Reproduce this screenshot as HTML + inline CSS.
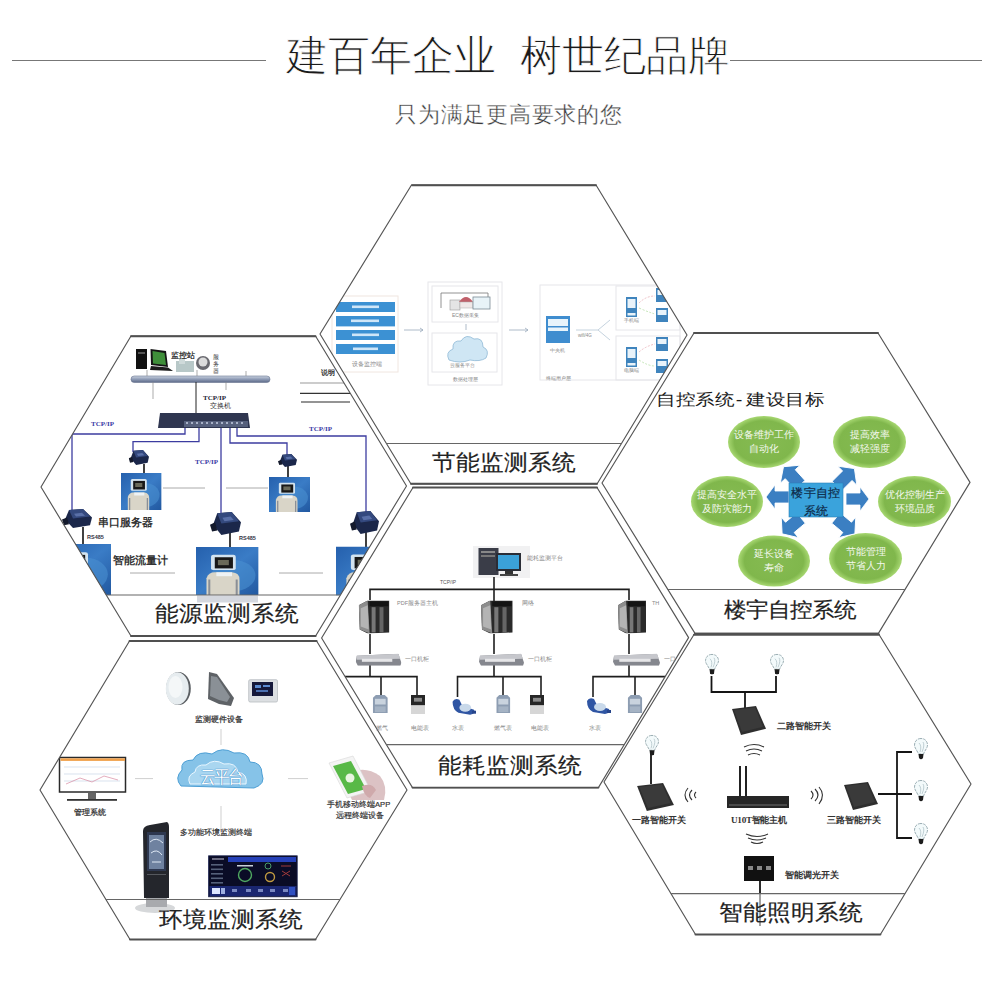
<!DOCTYPE html>
<html><head><meta charset="utf-8">
<style>
html,body{margin:0;padding:0;background:#fff;width:1000px;height:1000px;overflow:hidden}
body{position:relative;font-family:"Liberation Sans",sans-serif}
.t{position:absolute;line-height:1;white-space:nowrap}
svg{position:absolute;left:0;top:0}
.lbl{font-size:23.5px;color:#222;transform:scaleY(0.93);transform-origin:0 0;-webkit-text-stroke:0.2px #222}
.gt{font-size:10px;line-height:14px;color:#f4f8ee;text-align:center;white-space:normal}
.h6t{font-size:9.2px;color:#333;font-family:"Liberation Serif",serif;font-weight:bold}
.ttl{font-size:42.3px;color:#1a1a1a;-webkit-text-stroke:0.9px #fff}
.tn{font-size:6px;color:#888}
.sm{font-size:6px;color:#777}
</style></head><body>
<svg width="1000" height="1000" viewBox="0 0 1000 1000">
  <defs>
    <linearGradient id="gBlueBox" x1="0" y1="0" x2="1" y2="1">
      <stop offset="0" stop-color="#2560ad"/><stop offset="0.5" stop-color="#3a7cc6"/><stop offset="1" stop-color="#2158a0"/>
    </linearGradient>
    <linearGradient id="gBar" x1="0" y1="0" x2="0" y2="1">
      <stop offset="0" stop-color="#c9d2e0"/><stop offset="0.5" stop-color="#8e9bb5"/><stop offset="1" stop-color="#5d6a88"/>
    </linearGradient>
    <linearGradient id="gSrv" x1="0" y1="0" x2="1" y2="0">
      <stop offset="0" stop-color="#9a9a9a"/><stop offset="0.35" stop-color="#555"/><stop offset="0.4" stop-color="#1a1a1a"/><stop offset="1" stop-color="#333"/>
    </linearGradient>
    <linearGradient id="gSw" x1="0" y1="0" x2="0" y2="1">
      <stop offset="0" stop-color="#d0d0d4"/><stop offset="0.5" stop-color="#9a9ca4"/><stop offset="1" stop-color="#6a6c74"/>
    </linearGradient>
    <symbol id="fm" viewBox="0 0 40 37" preserveAspectRatio="none">
      <rect x="0" y="0" width="40" height="37" fill="url(#gBlueBox)"/>
      <ellipse cx="24" cy="22" rx="14" ry="12" fill="#4a8fd0" opacity="0.6"/>
      <rect x="9.6" y="6" width="15.8" height="11.8" rx="1.5" fill="#d3e3ef"/>
      <rect x="12" y="7.9" width="11.6" height="8.6" fill="#181818"/>
      <rect x="14" y="10" width="7" height="4" fill="#6a6a5a"/>
      <path d="M6.7,37 L6.7,24 Q8,19.5 12,19.5 L23,19.5 Q27.8,20 27.8,25 L27.8,37 Z" fill="#d9d5c8"/>
      <path d="M8.5,37 L8.5,25 M26,37 L26,25" stroke="#8a8f96" stroke-width="1.3"/>
      <rect x="13" y="19.5" width="10" height="3" fill="#eef2f4"/>
    </symbol>
    <symbol id="ss" viewBox="0 0 30 20" preserveAspectRatio="none">
      <polygon points="7,1 21,0 30,9 28,17 11,20 3,11" fill="#1b274a"/>
      <polygon points="7,1 21,0 28,8 11,10" fill="#34497e"/>
      <polygon points="12,5 20,4 23,7 14,8" fill="#5a70a8"/>
      <polygon points="0,11 5,9 7,16 2,17" fill="#141a2c"/>
    </symbol>
    <clipPath id="c1"><polygon points="411.5,185 596,185 687,335 597,484 411,484 320,334"/></clipPath>
    <clipPath id="c2"><polygon points="131,336 315.5,336 406.5,486 315.6,636 131,636 41,487"/></clipPath>
    <clipPath id="c3"><polygon points="694,333 878,333 970,482.4 878.4,633.4 695,633.4 602,483"/></clipPath>
    <clipPath id="c4"><polygon points="413,487.5 597,487.5 688.6,637.6 598.4,787.6 412.5,787.6 321.6,638"/></clipPath>
    <clipPath id="c5"><polygon points="129.5,641 316.6,641 407,790 315.5,939.5 130,939.5 40,790"/></clipPath>
    <clipPath id="c6"><polygon points="694,634.5 879,634.5 971,784 880.4,934.5 695.5,934.5 604,782"/></clipPath>
  </defs>

  <!-- header lines -->
  <line x1="12" y1="60.5" x2="266" y2="60.5" stroke="#777" stroke-width="1.2"/>
  <line x1="730" y1="60.5" x2="982" y2="60.5" stroke="#777" stroke-width="1.2"/>
  <g id="hexfill" fill="#fff" stroke="none">
    <polygon points="411.5,185 596,185 687,335 597,484 411,484 320,334"/>
    <polygon points="131,336 315.5,336 406.5,486 315.6,636 131,636 41,487"/>
    <polygon points="694,333 878,333 970,482.4 878.4,633.4 695,633.4 602,483"/>
    <polygon points="413,487.5 597,487.5 688.6,637.6 598.4,787.6 412.5,787.6 321.6,638"/>
    <polygon points="129.5,641 316.6,641 407,790 315.5,939.5 130,939.5 40,790"/>
    <polygon points="694,634.5 879,634.5 971,784 880.4,934.5 695.5,934.5 604,782"/>
  </g>


  <g id="h1" clip-path="url(#c1)">
    <rect x="332" y="296" width="66" height="76" fill="none" stroke="#f0e6e0" stroke-width="1"/>
    <g fill="#3c91d3">
      <rect x="336" y="302" width="59" height="10"/>
      <rect x="336" y="316" width="59" height="10.4"/>
      <rect x="336" y="330" width="59" height="10"/>
      <rect x="336" y="344" width="59" height="10"/>
    </g>
    <g fill="#cfe6f8">
      <rect x="352" y="305.5" width="27" height="2.6"/>
      <rect x="351" y="319.5" width="28" height="2.6"/>
      <rect x="352" y="333.5" width="27" height="2.6"/>
      <rect x="353" y="347.5" width="25" height="2.6"/>
    </g>
    
    <g stroke="#9ab" stroke-width="0.8" fill="none">
      <line x1="404" y1="330" x2="423" y2="330"/><polyline points="420,328 423,330 420,332"/>
      <line x1="509" y1="330" x2="528" y2="330"/><polyline points="525,328 528,330 525,332"/>
      <line x1="466" y1="324" x2="466" y2="330"/>
    </g>
    <g fill="none" stroke="#e6e6ea" stroke-width="1">
      <rect x="428" y="282" width="74" height="103"/>
      <rect x="432" y="286" width="66" height="36"/>
      <rect x="432" y="333" width="65" height="39"/>
      <rect x="540" y="285" width="140" height="95"/>
      <rect x="616" y="286" width="64" height="44"/>
      <rect x="616" y="336" width="64" height="44"/>
    </g>
    <!-- building -->
    <polyline points="441,308 441,293 488,293 488,300" fill="none" stroke="#777" stroke-width="0.8"/>
    <rect x="450" y="300" width="10" height="10" fill="#e4e4e4" stroke="#999" stroke-width="0.6"/>
    <path d="M459,302 Q466,292 473,302 Z" fill="#c0606a"/>
    <rect x="460" y="302" width="13" height="6" fill="#f0e8e8" stroke="#aaa" stroke-width="0.5"/>
    <rect x="473" y="297" width="17" height="12" fill="#e8f3f8" stroke="#7a8a95" stroke-width="0.8"/>
    
    <!-- cloud -->
    <path d="M449,360 Q445,352 453,349 Q452,340 461,341 Q466,333 474,339 Q483,337 483,347 Q490,350 486,358 Q480,362 470,360 Q460,364 449,360 Z" fill="#cfe6f4" stroke="#8fb9d6" stroke-width="0.8"/>
    
    
    <!-- device -->
    <rect x="546" y="316" width="24" height="27" fill="#3f8dcf"/>
    <rect x="548" y="319" width="20" height="7" fill="#e8f4fb"/>
    <rect x="548" y="327.5" width="20" height="3.5" fill="#e8f4fb"/>
    
    <g stroke="#b6c8d6" stroke-width="0.8" fill="none">
      <polyline points="576,330 598,330 610,320"/><line x1="598" y1="330" x2="610" y2="340"/>
    </g>
    
    
    <g fill="none" stroke-width="0.8" stroke-dasharray="2,1.5"><path d="M639,303 Q646,296 655,296" stroke="#e8b0b8"/><path d="M639,308 Q648,312 655,314" stroke="#b8e0a8"/><path d="M639,352 Q646,346 655,344" stroke="#e8b0b8"/><path d="M639,360 Q648,366 655,366" stroke="#b8e0a8"/></g>
    <!-- terminals -->
    <g>
      <rect x="626" y="297" width="11" height="20" fill="#3f84bd"/><rect x="627.5" y="299" width="8" height="9" fill="#e9f3fa"/><rect x="627.5" y="313" width="8" height="2.5" fill="#e9f3fa"/>
      <rect x="626" y="347" width="11" height="20" fill="#3f84bd"/><rect x="627.5" y="349" width="8" height="9" fill="#e9f3fa"/><rect x="627.5" y="363" width="8" height="2.5" fill="#e9f3fa"/>
      <rect x="656" y="288" width="12" height="14" fill="#3f84bd"/><rect x="657.5" y="290" width="9" height="5" fill="#e9f3fa"/>
      <rect x="656" y="308" width="12" height="14" fill="#3f84bd"/><rect x="657.5" y="310" width="9" height="5" fill="#e9f3fa"/>
      <rect x="656" y="337" width="12" height="14" fill="#3f84bd"/><rect x="657.5" y="339" width="9" height="5" fill="#e9f3fa"/>
      <rect x="656" y="359" width="12" height="14" fill="#3f84bd"/><rect x="657.5" y="361" width="9" height="5" fill="#e9f3fa"/>
    </g>
    
  </g>
  <g id="h2" clip-path="url(#c2)">
    <!-- computers -->
    <rect x="136" y="349" width="11" height="20" fill="#111"/>
    <rect x="138" y="352" width="7" height="2" fill="#555"/>
    <polygon points="150.5,349 166,351 168,367 151,365" fill="#151515"/>
    <polygon points="152.5,351 164.5,353 166,365 153,363.5" fill="#3f8f3a"/>
    <polygon points="151,366 168,367.5 173,371 150,370" fill="#1c1c1c"/>
    <rect x="176" y="361" width="18" height="11" fill="#b8c8c8"/>
    <rect x="179" y="358" width="6" height="6" fill="#cfdada"/>
    <circle cx="203" cy="363" r="7" fill="#6a6a70"/>
    <circle cx="203" cy="362" r="4.5" fill="#dcdcdc"/>
    <!-- bus bar -->
    <rect x="131" y="376" width="139" height="6.5" rx="3.2" fill="url(#gBar)" stroke="#6a7590" stroke-width="0.6"/>
    <g stroke="#888" stroke-width="0.7">
      <line x1="147" y1="370" x2="147" y2="376"/><line x1="197" y1="370" x2="197" y2="376"/><line x1="246" y1="371" x2="246" y2="376"/>
      <line x1="153" y1="382" x2="153" y2="399"/><line x1="226" y1="382" x2="226" y2="390"/>
    </g>
    <line x1="196" y1="382" x2="196" y2="413" stroke="#222" stroke-width="1"/>
    <!-- switch -->
    <polygon points="160,413 248,413 250,428 158,428" fill="#2f3650"/>
    <rect x="184" y="421" width="64" height="6" fill="#56607c"/>
    <g fill="#a9b2c8"><rect x="186" y="422" width="2" height="2"/><rect x="191" y="422" width="2" height="2"/><rect x="196" y="422" width="2" height="2"/><rect x="201" y="422" width="2" height="2"/><rect x="206" y="422" width="2" height="2"/><rect x="211" y="422" width="2" height="2"/><rect x="216" y="422" width="2" height="2"/><rect x="221" y="422" width="2" height="2"/><rect x="226" y="422" width="2" height="2"/><rect x="231" y="422" width="2" height="2"/><rect x="236" y="422" width="2" height="2"/><rect x="241" y="422" width="2" height="2"/></g>
    <!-- blue lines -->
    <g fill="none" stroke="#3c3ca0" stroke-width="1.3">
      <polyline points="185,428 185,434 72,434 72,510"/>
      <polyline points="199,428 199,441.6 133,441.6 133,452"/>
      <polyline points="221,428 221,513"/>
      <polyline points="230,428 230,443 287,443 287,455"/>
      <polyline points="237,428 237,436 366,436 366,512"/>
    </g>
    <!-- cables -->
    <g stroke="#111" stroke-width="1.6">
      <line x1="144" y1="464" x2="144" y2="485"/>
      <line x1="288" y1="466" x2="288" y2="486"/>
      <line x1="83" y1="527" x2="83" y2="562"/>
      <line x1="230" y1="533" x2="230" y2="572"/>
      <line x1="366" y1="532" x2="366" y2="562"/>
    </g>
    <!-- gray lines -->
    <g stroke="#aaa" stroke-width="1">
      <line x1="163" y1="488" x2="205" y2="488"/><line x1="226" y1="488" x2="268" y2="488"/>
      <line x1="130" y1="573" x2="175" y2="573"/><line x1="279" y1="573" x2="323" y2="573"/>
    </g>
    <!-- flow meters -->
    <use href="#fm" x="121" y="473" width="40.6" height="37"/>
    <use href="#fm" x="269" y="477" width="41" height="35"/>
    <use href="#fm" x="48" y="544" width="63" height="51"/>
    <use href="#fm" x="196" y="547" width="62.6" height="48"/>
    <use href="#fm" x="336" y="546.5" width="62" height="49"/>
    <rect x="197" y="595.5" width="61" height="7" fill="#c9cdd6" opacity="0.8"/>
    <!-- serial servers -->
    <use href="#ss" x="128.7" y="450" width="20.3" height="15"/>
    <use href="#ss" x="278" y="454" width="19" height="13"/>
    <use href="#ss" x="62" y="509" width="30" height="19"/>
    <use href="#ss" x="210" y="512" width="31" height="23"/>
    <use href="#ss" x="350" y="511" width="29" height="23"/>
    <!-- legend right -->
    <g stroke-width="1.2">
      <line x1="300" y1="383" x2="345" y2="383" stroke="#999"/>
      <line x1="300" y1="393.3" x2="350" y2="393.3" stroke="#333"/>
      <line x1="301" y1="402" x2="350" y2="402" stroke="#2a2a2a"/>
    </g>
  </g>

  <g id="h3" clip-path="url(#c3)">
    <defs>
      <radialGradient id="gGreen" cx="0.5" cy="0.5" r="0.5">
        <stop offset="0" stop-color="#86bb52"/><stop offset="0.82" stop-color="#80b74c"/><stop offset="1" stop-color="#a8d872"/>
      </radialGradient>
    </defs>
    <g fill="url(#gGreen)">
      <ellipse cx="764" cy="442" rx="36" ry="26"/>
      <ellipse cx="869.5" cy="442" rx="36.5" ry="26"/>
      <ellipse cx="727" cy="501.5" rx="36" ry="25.5"/>
      <ellipse cx="914.5" cy="501.5" rx="36.5" ry="25.5"/>
      <ellipse cx="774" cy="561" rx="36" ry="25.6"/>
      <ellipse cx="865.5" cy="558.5" rx="36.5" ry="25.5"/>
    </g>
    <!-- arrows -->
    <g fill="#3b7fc2" stroke="#fff" stroke-width="0.8">
      <polygon points="789,491 775,491 775,485 766,497 775,509 775,503 789,503"/>
      <polygon points="846,493 860,493 860,487 869,499 860,511 860,505 846,505"/>
      <g transform="translate(800,485) rotate(-132) scale(1.12)"><polygon points="0,-6 13,-6 13,-12 22,0 13,12 13,6 0,6"/></g>
      <g transform="translate(837,486) rotate(-45) scale(1.12)"><polygon points="0,-6 13,-6 13,-12 22,0 13,12 13,6 0,6"/></g>
      <g transform="translate(801,518) rotate(140) scale(1.12)"><polygon points="0,-6 13,-6 13,-12 22,0 13,12 13,6 0,6"/></g>
      <g transform="translate(836,518) rotate(40) scale(1.12)"><polygon points="0,-6 13,-6 13,-12 22,0 13,12 13,6 0,6"/></g>
    </g>
    <rect x="789" y="483" width="54" height="34" fill="#3aa3dc" stroke="#2b7fb8" stroke-width="0.6"/>
  </g>

  <g id="h4" clip-path="url(#c4)">
    <defs>
      <symbol id="srv" viewBox="0 0 31 34" preserveAspectRatio="none">
        <polygon points="0,5 9,0 31,0 31,33 9,34 1,30" fill="#2a2a2a"/>
        <polygon points="0,5 9,0 11,34 1,30" fill="#8d8d8d"/>
        <polygon points="2,8 9,5 10,30 2,27" fill="#b4b4b4"/>
        <rect x="13" y="7" width="4" height="26" fill="#777"/>
        <rect x="21" y="7" width="4" height="26" fill="#666"/>
        <rect x="11" y="1" width="19" height="5" fill="#141414"/>
      </symbol>
      <symbol id="sw" viewBox="0 0 45 12" preserveAspectRatio="none">
        <polygon points="1,2 42,0 45,9 44,12 2,12 0,8" fill="#85878e"/>
        <polygon points="1,2 42,0 44,5 1,6" fill="#c6c7cc"/>
        <rect x="6" y="5" width="30" height="3" fill="#e6e6e8"/>
      </symbol>
      <symbol id="gas" viewBox="0 0 17 20" preserveAspectRatio="none">
        <path d="M1,3 L4,0 L13,0 L16,3 L16,19 L1,19 Z" fill="#8d9db2"/>
        <rect x="3" y="4" width="11" height="6" fill="#c9d3de"/>
        <rect x="3" y="12" width="11" height="6" fill="#a5b3c4"/>
      </symbol>
      <symbol id="elec" viewBox="0 0 14 20" preserveAspectRatio="none">
        <rect x="0" y="0" width="14" height="11" fill="#262626"/>
        <rect x="3" y="3" width="8" height="4" fill="#8a8a8a"/>
        <rect x="0" y="11" width="14" height="9" fill="#d6d6d6"/>
      </symbol>
      <symbol id="water" viewBox="0 0 26 18" preserveAspectRatio="none">
        <path d="M2,4 Q4,0 9,2 L12,8 L24,12 Q26,16 20,17 L8,15 Q2,12 2,4 Z" fill="#2f55a3"/>
        <ellipse cx="15" cy="10" rx="6" ry="4" fill="#c9d9ea"/>
        <rect x="22" y="13" width="4" height="3" fill="#26448a"/>
      </symbol>
    </defs>
    <!-- computer -->
    <rect x="473" y="546" width="57" height="32" fill="#f1f1f2"/>
    <rect x="478.5" y="548" width="20" height="27" fill="#3a3d48"/>
    <rect x="481" y="551" width="14" height="2" fill="#888"/><rect x="481" y="555" width="14" height="2" fill="#777"/>
    <rect x="496" y="553" width="25" height="18" fill="#2a2d36"/>
    <rect x="498" y="555" width="21" height="14" fill="#3ba1d8"/>
    <rect x="505" y="571" width="8" height="3" fill="#333"/><rect x="500" y="574" width="18" height="2" fill="#444"/>
    <!-- lines -->
    <g stroke="#1e1e1e" stroke-width="1.6" fill="none">
      <line x1="494" y1="577" x2="494" y2="601"/>
      <polyline points="370,600 370,589.4 629,589.4 629,600"/>
      <line x1="370" y1="634" x2="370" y2="654"/><line x1="494" y1="634" x2="494" y2="654"/><line x1="629" y1="634" x2="629" y2="654"/>
      <line x1="370" y1="665" x2="370" y2="676.6"/><line x1="494" y1="665" x2="494" y2="676.6"/><line x1="629" y1="665" x2="629" y2="676.6"/>
      <polyline points="345,676.6 417,676.6 417,696"/><line x1="381" y1="676.6" x2="381" y2="697"/>
      <polyline points="457.5,697 457.5,676.6 541,676.6 541,696"/><line x1="503" y1="676.6" x2="503" y2="697"/>
      <polyline points="593,697 593,676.6 690,676.6"/><line x1="635" y1="676.6" x2="635" y2="697"/>
    </g>
    <use href="#srv" x="358.8" y="600.4" width="30.6" height="33"/>
    <use href="#srv" x="481" y="600.4" width="31.7" height="33"/>
    <use href="#srv" x="618" y="600.4" width="28" height="33"/>
    <use href="#sw" x="355.8" y="653.8" width="45.6" height="12"/>
    <use href="#sw" x="479" y="653.8" width="45" height="12"/>
    <use href="#sw" x="613" y="653.8" width="47" height="12"/>
    <use href="#gas" x="372" y="695" width="16.6" height="19"/>
    <use href="#elec" x="411" y="695" width="14" height="19"/>
    <use href="#water" x="450.6" y="697.7" width="25.4" height="18"/>
    <use href="#gas" x="495.6" y="695" width="15.4" height="19"/>
    <use href="#elec" x="530" y="695" width="14" height="19"/>
    <use href="#water" x="585" y="697" width="26" height="18"/>
    <use href="#gas" x="627" y="695" width="16" height="19"/>

  </g>

  <g id="h5" clip-path="url(#c5)">
    <defs>
      <linearGradient id="gKiosk" x1="0" y1="0" x2="1" y2="0">
        <stop offset="0" stop-color="#1a1a1e"/><stop offset="1" stop-color="#3a3a40"/>
      </linearGradient>
    </defs>
    <!-- sensors -->
    <ellipse cx="178.5" cy="688.5" rx="12.3" ry="16.5" fill="#5a5e62"/>
    <ellipse cx="177.3" cy="688.5" rx="11.5" ry="16.3" fill="#e6ecef"/>
    <ellipse cx="175.5" cy="687" rx="7" ry="11" fill="#f4f7f8"/>
    <polygon points="209,672 217,674 234,698 231,706 219,704 208,699" fill="#5e6266"/>
    <polygon points="211,676 217,677 230,697 227,702 219,700 210,696" fill="#8a9096"/>
    <rect x="248.7" y="679.7" width="28.8" height="22.3" rx="1.5" fill="#dcdfe2" stroke="#b8bcc0" stroke-width="0.8"/>
    <rect x="252" y="682" width="21" height="14" fill="#15183a"/>
    <rect x="255" y="685" width="6" height="3" fill="#5b8ad0"/><rect x="263" y="685" width="7" height="2" fill="#5b8ad0"/><rect x="256" y="690" width="12" height="2" fill="#4a6fb0"/>
    
    <g stroke="#cfcfcf" stroke-width="1">
      <line x1="221" y1="729" x2="221" y2="745"/>
      <line x1="135" y1="778.6" x2="153" y2="778.6"/>
      <line x1="288" y1="778.6" x2="308" y2="778.6"/>
      <line x1="221" y1="806" x2="221" y2="830"/>
    </g>
    <!-- cloud -->
    <path d="M181,786 Q174,778 182,770 Q180,760 193,760 Q198,750 212,754 Q222,746 234,753 Q248,751 250,762 Q262,762 262,774 Q266,784 254,788 Z" fill="#86c3e8" stroke="#4e9fd4" stroke-width="1"/>
    <path d="M190,784 Q186,776 195,772 Q196,764 206,765 Q214,758 224,764 Q236,762 238,772 Q248,774 246,784 Z" fill="#a9d6f0" stroke="#e8f6ff" stroke-width="1"/>
    <!-- monitor -->
    <rect x="59.5" y="757.5" width="66" height="34.5" fill="#fff" stroke="#2a2a2a" stroke-width="1.5"/>
    <rect x="60.5" y="758.3" width="64.5" height="2.6" fill="#f0a04a"/>
    <g stroke="#c9d6e6" stroke-width="0.7"><line x1="64" y1="767" x2="120" y2="767"/><line x1="64" y1="774" x2="120" y2="774"/><line x1="64" y1="781" x2="120" y2="781"/></g>
    <polyline points="66,784 80,778 92,782 104,776 118,780" fill="none" stroke="#d98aa0" stroke-width="0.7"/>
    <rect x="88" y="793" width="8" height="6" fill="#666"/>
    <rect x="67" y="799" width="50" height="1.8" fill="#333"/>
    
    <!-- phone -->
    <path d="M352,772 Q366,766 380,776 Q388,786 384,800 L352,800 Q346,790 352,772 Z" fill="#dcc2c4"/>
    <polygon points="329,763 353,756 371,791 347,798" fill="#f4f4f4" stroke="#d8d8d8" stroke-width="0.6"/>
    <polygon points="333,766 351,761 366,789 348,794" fill="#58b947"/>
    <circle cx="350" cy="778" r="4.5" fill="#e8f5e0"/>
    <path d="M362,786 Q372,782 376,790 L370,798 Q364,796 362,786 Z" fill="#cfa9ab"/>
    <!-- kiosk -->
    <ellipse cx="155" cy="908" rx="20" ry="5" fill="#d6d8da"/>
    <rect x="146" y="897" width="21" height="10" fill="#a8aaae"/>
    <path d="M143,831 Q143,826 150,825 L167,822 Q169,823 169,827 L169,898 L144,898 Z" fill="#24262c"/>
    <rect x="147" y="832" width="19" height="39" fill="#2e3850"/>
    <rect x="149" y="835" width="15" height="34" fill="#6f82a0"/>
    <path d="M150,842 Q156,836 163,843 M151,853 Q157,848 162,855 M152,862 L161,862" stroke="#dfe8f4" stroke-width="1" fill="none"/>
    <rect x="147" y="874" width="19" height="1" fill="#55585e"/>
    <!-- dashboard -->
    <rect x="208.6" y="855.8" width="88.6" height="41" fill="#0a0c26" stroke="#1c2450" stroke-width="0.8"/>
    <rect x="228" y="857" width="68" height="5" fill="#2540b8"/>
    <rect x="212" y="858" width="12" height="2" fill="#6a6a80"/>
    <g fill="#55607a"><rect x="211" y="864" width="12" height="1.6"/><rect x="211" y="868.5" width="12" height="1.6"/><rect x="211" y="873" width="12" height="1.6"/><rect x="211" y="877.5" width="12" height="1.6"/><rect x="211" y="882" width="12" height="1.6"/></g>
    <rect x="237" y="865" width="16" height="1.5" fill="#c8d0d8"/>
    <circle cx="245" cy="875" r="6.5" fill="none" stroke="#4fa860" stroke-width="1.4"/>
    <circle cx="270" cy="877" r="4.5" fill="none" stroke="#c09a40" stroke-width="1.4"/>
    <circle cx="268" cy="866" r="3" fill="none" stroke="#4a9a6a" stroke-width="1"/>
    <path d="M281,866 L291,866 M282,871 L290,876 M290,871 L282,876" stroke="#a03a3a" stroke-width="1" fill="none"/>
    <rect x="209.5" y="886" width="87" height="10" fill="#1a2670"/>
    <rect x="212" y="888" width="8" height="6" fill="#dde6ff"/><rect x="221" y="888" width="4" height="6" fill="#9fb0e0"/>
    <g fill="#7a88c0"><rect x="232" y="889" width="5" height="3"/><rect x="246" y="889" width="5" height="3"/><rect x="258" y="889" width="5" height="3"/><rect x="270" y="889" width="5" height="3"/><rect x="283" y="889" width="5" height="3"/></g>
    <rect x="289" y="887" width="6" height="8" fill="#3050c0"/>
  </g>

  <g id="h6" clip-path="url(#c6)">
    <defs>
      <symbol id="bulb" viewBox="0 0 16 24" preserveAspectRatio="none">
        <path d="M8,1.5 C3.5,1.5 1.5,5 1.5,8 C1.5,11 4,13 5.5,17 L10.5,17 C12,13 14.5,11 14.5,8 C14.5,5 12.5,1.5 8,1.5 Z" fill="#f3fafb" stroke="#8fa4aa" stroke-width="0.9" stroke-dasharray="3,1"/>
        <path d="M6,6 Q9,9 7,15 M10,5 Q12,8 9,15" fill="none" stroke="#a8bcc2" stroke-width="0.7"/>
        <path d="M5.5,17 L10.5,17 L10,21 Q8,23.5 6,21 Z" fill="#1c1c1c"/>
      </symbol>
      <symbol id="wsw" viewBox="0 0 36 28" preserveAspectRatio="none">
        <polygon points="1,3 25,0 35,22 10,28" fill="#2e2e2e"/>
        <polygon points="3,4 24,1.5 32,20 11,25" fill="#3a3a3a"/>
      </symbol>
    </defs>
    <g stroke="#151515" stroke-width="1.8" fill="none">
      <polyline points="711.5,676 711.5,692 776,692 776,676"/>
      <line x1="745" y1="692" x2="745" y2="708"/>
      <line x1="651" y1="754" x2="651" y2="784"/>
      <polyline points="878,794 912,794"/>
      <polyline points="912,752 897,752 897,838 912,838"/>
      <line x1="760" y1="881" x2="760" y2="894"/>
    </g>
    <use href="#bulb" x="704" y="653" width="16" height="23"/>
    <use href="#bulb" x="769" y="653" width="16" height="23"/>
    <use href="#bulb" x="644" y="734" width="16" height="23"/>
    <line x1="760" y1="894" x2="760" y2="926" stroke="#8a8a8a" stroke-width="1.6"/>
    <g transform="translate(913,737)"><use href="#bulb" x="0" y="0" width="16" height="24"/></g>
    <g transform="translate(913,779)"><use href="#bulb" x="0" y="0" width="16" height="24"/></g>
    <g transform="translate(913,822)"><use href="#bulb" x="0" y="0" width="16" height="24"/></g>
    <use href="#wsw" x="731" y="706" width="36" height="29"/>
    <use href="#wsw" x="636" y="783" width="39" height="28"/>
    <use href="#wsw" x="843" y="782" width="36" height="28"/>
    <!-- router -->
    <rect x="739" y="766" width="2" height="31" fill="#222"/>
    <rect x="745" y="766" width="2" height="31" fill="#222"/>
    <rect x="727" y="796" width="62" height="12" fill="#262626"/>
    <rect x="729" y="804" width="58" height="2" fill="#4a4a4a"/>
    <!-- dimmer -->
    <rect x="744" y="856" width="30" height="25" fill="#111"/>
    <g fill="#888"><rect x="748" y="866" width="5" height="4"/><rect x="757" y="866" width="5" height="4"/><rect x="766" y="866" width="5" height="4"/></g>
    <!-- wifi -->
    <g fill="none" stroke="#333" stroke-width="1.1">
      <path d="M744,747 Q754,742 764,747"/><path d="M746,751 Q754,747 762,751"/><path d="M748,755 Q754,752 760,755"/>
      <path d="M746,834 Q757,839 768,834"/><path d="M748,838 Q757,842 766,838"/><path d="M751,842 Q757,845 763,842"/>
      <path d="M688,788 Q682,795 688,802"/><path d="M692,790 Q687,795 692,800"/><path d="M696,792 Q693,795 696,798"/>
      <path d="M819,787 Q826,795 819,804"/><path d="M815,789 Q821,795 815,801"/><path d="M811,791 Q815,795 811,799"/>
    </g>
  </g>
  <g id="hexline" fill="none" stroke="#555" stroke-width="1.15" stroke-linejoin="round">
    <polygon points="411.5,185 596,185 687,335 597,484 411,484 320,334"/>
    <polygon points="131,336 315.5,336 406.5,486 315.6,636 131,636 41,487"/>
    <polygon points="694,333 878,333 970,482.4 878.4,633.4 695,633.4 602,483"/>
    <polygon points="413,487.5 597,487.5 688.6,637.6 598.4,787.6 412.5,787.6 321.6,638"/>
    <polygon points="129.5,641 316.6,641 407,790 315.5,939.5 130,939.5 40,790"/>
    <polygon points="694,634.5 879,634.5 971,784 880.4,934.5 695.5,934.5 604,782"/>
  </g>

  <g id="hexh" stroke="#505050" stroke-width="1.9" stroke-linecap="round">
    <line x1="412" y1="185.2" x2="596" y2="185.2"/><line x1="411" y1="483.8" x2="597" y2="483.8"/>
    <line x1="131" y1="336.3" x2="315.5" y2="336.3"/><line x1="131" y1="636" x2="315.6" y2="636"/>
    <line x1="694" y1="333" x2="878" y2="333"/><line x1="695" y1="633.6" x2="878.4" y2="633.6"/>
    <line x1="413" y1="487.5" x2="597" y2="487.5"/><line x1="412.5" y1="787.6" x2="598.4" y2="787.6"/>
    <line x1="129.5" y1="641" x2="316.6" y2="641"/><line x1="130" y1="939.5" x2="315.5" y2="939.5"/>
    <line x1="694" y1="634.8" x2="879" y2="634.8"/><line x1="695.5" y1="934.5" x2="880.4" y2="934.5"/>
  </g>
  <g id="bars" stroke="#666" stroke-width="1.2">
    <line x1="380" y1="443.5" x2="630" y2="443.5" clip-path="url(#c1)"/>
    <line x1="100" y1="595" x2="350" y2="595" clip-path="url(#c2)"/>
    <line x1="660" y1="589.5" x2="915" y2="589.5" clip-path="url(#c3)"/>
    <line x1="380" y1="744.7" x2="630" y2="744.7" clip-path="url(#c4)"/>
    <line x1="100" y1="899.5" x2="350" y2="899.5" clip-path="url(#c5)"/>
    <line x1="660" y1="893.6" x2="915" y2="893.6" clip-path="url(#c6)"/>
  </g>
</svg>
<div class="t ttl" style="left:286px;top:35px">建百年企业</div>
<div class="t ttl" style="left:520px;top:35px">树世纪品牌</div>
<div class="t" style="left:395px;top:104px;font-size:22.4px;color:#3a3a3a;letter-spacing:0.75px;-webkit-text-stroke:0.35px #fff">只为满足更高要求的您</div>


<div class="t" style="left:170.5px;top:351.5px;font-size:7.8px;color:#222;-webkit-text-stroke:0.2px #222">监控站</div>
<div class="t" style="left:213px;top:354px;font-size:6px;color:#333;width:6px;white-space:normal;line-height:7px">服务器</div>
<div class="t" style="left:203px;top:395px;font-size:7px;color:#223;font-weight:bold;font-family:'Liberation Serif',serif">TCP/IP</div>
<div class="t" style="left:210px;top:403px;font-size:6.5px;color:#333">交换机</div>
<div class="t" style="left:91px;top:421px;font-size:7px;color:#3a3aa6;font-weight:bold;font-family:'Liberation Serif',serif">TCP/IP</div>
<div class="t" style="left:195px;top:459px;font-size:7px;color:#3a3aa6;font-weight:bold;font-family:'Liberation Serif',serif">TCP/IP</div>
<div class="t" style="left:309px;top:426px;font-size:7px;color:#3a3aa6;font-weight:bold;font-family:'Liberation Serif',serif">TCP/IP</div>
<div class="t" style="left:98px;top:517px;font-size:10.5px;color:#333;font-weight:bold">串口服务器</div>
<div class="t" style="left:87px;top:535px;font-size:5.5px;color:#334;font-weight:bold">RS485</div>
<div class="t" style="left:239px;top:536px;font-size:5.5px;color:#334;font-weight:bold">RS485</div>
<div class="t" style="left:113px;top:555px;font-size:10.5px;color:#333;font-weight:bold">智能流量计</div>
<div class="t" style="left:320.5px;top:368.5px;font-size:7px;color:#222;-webkit-text-stroke:0.2px #222">说明</div>

<div class="t" style="left:656px;top:390.5px;font-size:16.3px;color:#1a1a1a;transform:scaleX(1.225);transform-origin:0 0">自控系统<span style="letter-spacing:3px;margin-left:1px">-</span>建设目标</div>
<div class="t" style="left:789px;top:483.5px;font-size:12px;color:#0e2a48;width:54px;text-align:center;line-height:18.5px;white-space:normal;letter-spacing:0.3px;-webkit-text-stroke:0.2px #0e2a48">楼宇自控<br>系统</div>
<div class="t gt" style="left:728px;top:428px;width:72px">设备维护工作<br>自动化</div>
<div class="t gt" style="left:833px;top:428px;width:73px">提高效率<br>减轻强度</div>
<div class="t gt" style="left:691px;top:487.5px;width:72px">提高安全水平<br>及防灾能力</div>
<div class="t gt" style="left:878px;top:487.5px;width:73px">优化控制生产<br>环境品质</div>
<div class="t gt" style="left:738px;top:547px;width:72px">延长设备<br>寿命</div>
<div class="t gt" style="left:829px;top:544.5px;width:73px">节能管理<br>节省人力</div>

<div class="t" style="left:200px;top:768px;font-size:16px;color:#ffffff;letter-spacing:-2px;text-shadow:0 0 1px #2f7fc0,0 0 1px #2f7fc0;transform:scaleY(1.15);transform-origin:0 0">云平台</div>

<div class="t h6t" style="left:777px;top:722px">二路智能开关</div>
<div class="t h6t" style="left:632px;top:816px">一路智能开关</div>
<div class="t h6t" style="left:731px;top:816px;letter-spacing:-0.3px">U10T智能主机</div>
<div class="t h6t" style="left:827px;top:816px">三路智能开关</div>
<div class="t h6t" style="left:785px;top:871px">智能调光开关</div>

<div class="t tn" style="left:352px;top:361px">设备监控端</div>
<div class="t tn" style="left:452px;top:312.5px;font-size:5px">EC数据采集</div>
<div class="t tn" style="left:450px;top:363px;font-size:5px">云服务平台</div>
<div class="t tn" style="left:453px;top:376.5px;font-size:5px">数据处理层</div>
<div class="t tn" style="left:550px;top:348px;font-size:5px">中央机</div>
<div class="t tn" style="left:578px;top:334px;font-size:4.5px">wifi/4G</div>
<div class="t tn" style="left:546px;top:375.5px;font-size:5px">终端用户层</div>
<div class="t tn" style="left:624px;top:319px;font-size:4.5px">手机端</div>
<div class="t tn" style="left:624px;top:369px;font-size:4.5px">电脑端</div>
<div class="t tn" style="left:527px;top:555.5px;font-size:5.5px">能耗监测平台</div>
<div class="t tn" style="left:440px;top:580px;font-size:5px;color:#555">TCP/IP</div>
<div class="t tn" style="left:397px;top:601px;font-size:5.5px">PDF服务器主机</div>
<div class="t tn" style="left:522px;top:601px;font-size:5.5px">网络</div>
<div class="t tn" style="left:652px;top:601px;font-size:5.5px">TH</div>
<div class="t tn" style="left:405px;top:657px;font-size:5.5px">一口机柜</div>
<div class="t tn" style="left:528px;top:657px;font-size:5.5px">一口机柜</div>
<div class="t tn" style="left:664px;top:657px;font-size:5.5px">一口</div>
<div class="t tn" style="left:376px;top:726px;font-size:5.5px">燃气</div>
<div class="t tn" style="left:411px;top:726px;font-size:5.5px">电能表</div>
<div class="t tn" style="left:452px;top:726px;font-size:5.5px">水表</div>
<div class="t tn" style="left:494px;top:726px;font-size:5.5px">燃气表</div>
<div class="t tn" style="left:531px;top:726px;font-size:5.5px">电能表</div>
<div class="t tn" style="left:589px;top:726px;font-size:5.5px">水表</div>
<div class="t tn" style="left:194.5px;top:714.5px;font-size:8.4px;color:#333;-webkit-text-stroke:0.25px #333">监测硬件设备</div>
<div class="t tn" style="left:73.5px;top:807.5px;font-size:8.4px;color:#333;-webkit-text-stroke:0.25px #333">管理系统</div>
<div class="t tn" style="left:327px;top:801px;font-size:7.6px;color:#333;-webkit-text-stroke:0.2px #333">手机移动终端APP</div>
<div class="t tn" style="left:336px;top:812px;font-size:7.6px;color:#333;-webkit-text-stroke:0.2px #333">远程终端设备</div>
<div class="t tn" style="left:180px;top:828px;font-size:8.3px;color:#333;-webkit-text-stroke:0.2px #333">多功能环境监测终端</div>
<div class="t lbl" style="left:432px;top:452.3px">节能监测系统</div>
<div class="t lbl" style="left:155px;top:602.7px">能源监测系统</div>
<div class="t lbl" style="left:724px;top:600.3px;font-size:22.2px">楼宇自控系统</div>
<div class="t lbl" style="left:438px;top:755.3px">能耗监测系统</div>
<div class="t lbl" style="left:158.5px;top:908.8px">环境监测系统</div>
<div class="t lbl" style="left:718.5px;top:901.8px">智能照明系统</div>
</body></html>
